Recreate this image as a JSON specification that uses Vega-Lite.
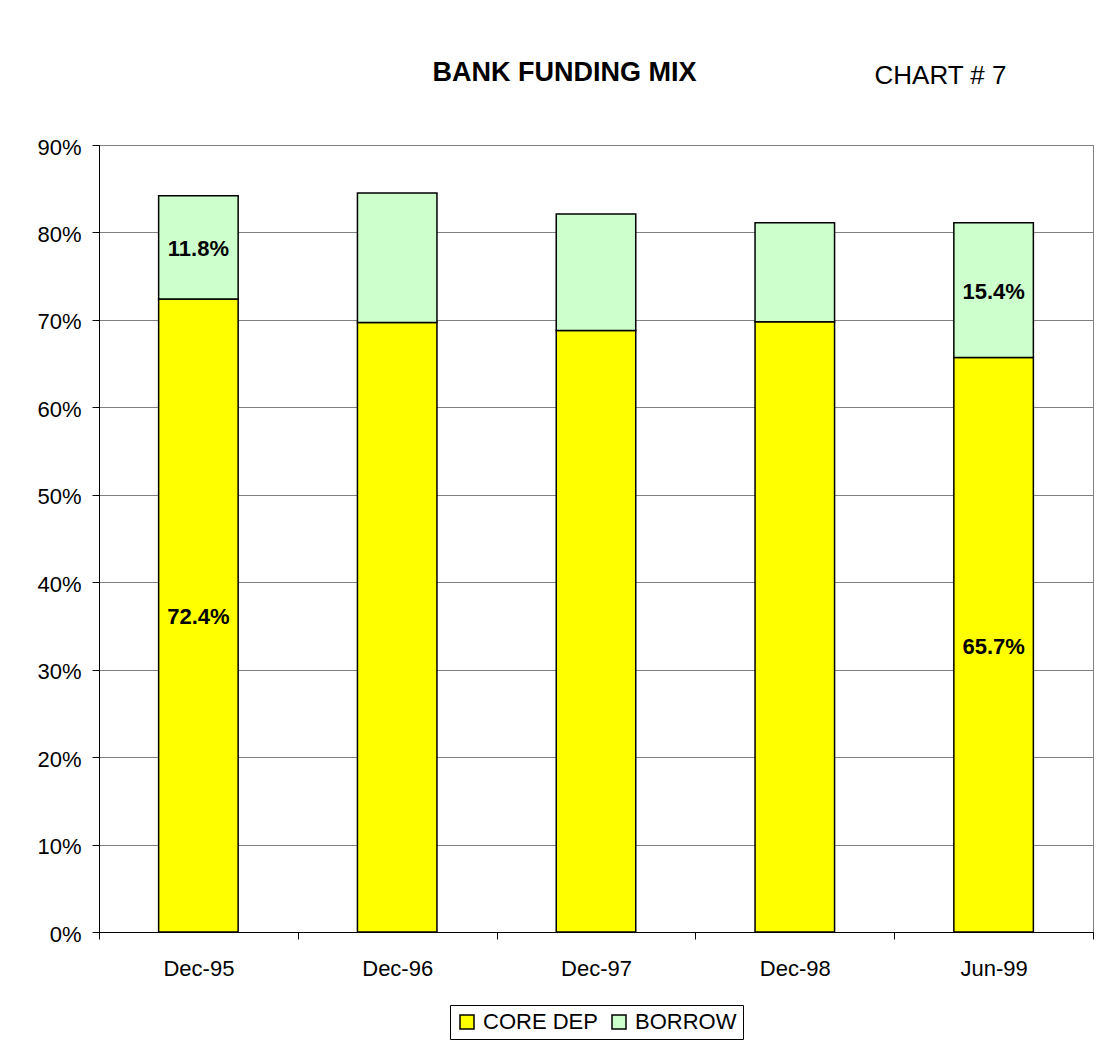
{
  "$schema": "https://vega.github.io/schema/vega-lite/v6.json",
  "width": 994,
  "height": 787,
  "autosize": {"type": "none"},
  "padding": {"left": 99, "top": 145, "right": 17, "bottom": 125},
  "background": "white",
  "config": {
    "font": "Liberation Sans",
    "view": {"stroke": "#808080", "strokeWidth": 1},
    "axisX": {
      "titleX": 465,
      "titleY": -852,
      "titleAlign": "center",
      "titleBaseline": "alphabetic",
      "titleFont": "Liberation Sans",
      "titleFontSize": 27,
      "titleFontWeight": "bold",
      "titleColor": "black",
      "labelAngle": 0,
      "labelFont": "Liberation Sans",
      "labelFontSize": 22,
      "labelColor": "black",
      "labelPadding": 19,
      "tickBand": "extent",
      "tickSize": 7,
      "tickColor": "black",
      "domainColor": "black",
      "domainWidth": 1,
      "grid": false
    },
    "axisY": {
      "titleAngle": 0,
      "titleX": 841,
      "titleY": -62,
      "titleAlign": "center",
      "titleBaseline": "alphabetic",
      "titleFont": "Liberation Sans",
      "titleFontSize": 26,
      "titleFontWeight": "normal",
      "titleColor": "black",
      "labelFont": "Liberation Sans",
      "labelFontSize": 22,
      "labelColor": "black",
      "labelPadding": 11,
      "labelOffset": 2,
      "tickSize": 7,
      "tickColor": "black",
      "domainColor": "black",
      "grid": true,
      "gridColor": "#808080",
      "gridWidth": 1
    }
  },
  "data": {
    "values": [
      {"period": "Dec-95", "type": "CORE DEP", "value": 0.724, "order": 1},
      {"period": "Dec-95", "type": "BORROW", "value": 0.118, "order": 2},
      {"period": "Dec-96", "type": "CORE DEP", "value": 0.697, "order": 1},
      {"period": "Dec-96", "type": "BORROW", "value": 0.148, "order": 2},
      {"period": "Dec-97", "type": "CORE DEP", "value": 0.688, "order": 1},
      {"period": "Dec-97", "type": "BORROW", "value": 0.133, "order": 2},
      {"period": "Dec-98", "type": "CORE DEP", "value": 0.698, "order": 1},
      {"period": "Dec-98", "type": "BORROW", "value": 0.113, "order": 2},
      {"period": "Jun-99", "type": "CORE DEP", "value": 0.657, "order": 1},
      {"period": "Jun-99", "type": "BORROW", "value": 0.154, "order": 2}
    ]
  },
  "layer": [
    {
      "mark": {"type": "bar", "stroke": "black", "strokeWidth": 1.5, "width": {"band": 0.4}},
      "encoding": {
        "x": {
          "field": "period",
          "type": "nominal",
          "sort": null,
          "scale": {"paddingInner": 0, "paddingOuter": 0},
          "axis": {"title": "BANK FUNDING MIX"}
        },
        "y": {
          "field": "value",
          "type": "quantitative",
          "stack": "zero",
          "scale": {"domain": [0, 0.9], "nice": false},
          "axis": {
            "title": "CHART # 7",
            "values": [0, 0.1, 0.2, 0.3, 0.4, 0.5, 0.6, 0.7, 0.8, 0.9],
            "format": ".0%"
          }
        },
        "color": {
          "field": "type",
          "type": "nominal",
          "scale": {"domain": ["CORE DEP", "BORROW"], "range": ["#FFFF00", "#CCFFCC"]},
          "legend": {
            "title": null,
            "orient": "none",
            "direction": "horizontal",
            "legendX": 351,
            "legendY": 860,
            "padding": 6,
            "strokeColor": "black",
            "fillColor": "white",
            "symbolType": "square",
            "symbolSize": 196,
            "symbolStrokeColor": "black",
            "symbolStrokeWidth": 1.5,
            "labelFont": "Liberation Sans",
            "labelFontSize": 22,
            "labelColor": "black",
            "labelOffset": 5,
            "columnPadding": 10
          }
        },
        "order": {"field": "order", "type": "quantitative"}
      }
    },
    {
      "transform": [
        {"filter": "datum.period == 'Dec-95' || datum.period == 'Jun-99'"},
        {"stack": "value", "groupby": ["period"], "sort": [{"field": "order"}], "as": ["v0", "v1"]},
        {"fold": ["v0", "v1"], "as": ["k", "pos"]},
        {"aggregate": [{"op": "mean", "field": "pos", "as": "mid"}, {"op": "max", "field": "value", "as": "value"}], "groupby": ["period", "type"]}
      ],
      "mark": {"type": "text", "font": "Liberation Sans", "fontSize": 22, "fontWeight": "bold", "color": "black", "baseline": "middle", "dy": 2},
      "encoding": {
        "x": {"field": "period", "type": "nominal", "sort": null, "axis": {"title": "BANK FUNDING MIX"}},
        "y": {
          "field": "mid",
          "type": "quantitative",
          "axis": {
            "title": "CHART # 7",
            "values": [0, 0.1, 0.2, 0.3, 0.4, 0.5, 0.6, 0.7, 0.8, 0.9],
            "format": ".0%"
          }
        },
        "text": {"field": "value", "type": "quantitative", "format": ".1%"}
      }
    }
  ]
}
